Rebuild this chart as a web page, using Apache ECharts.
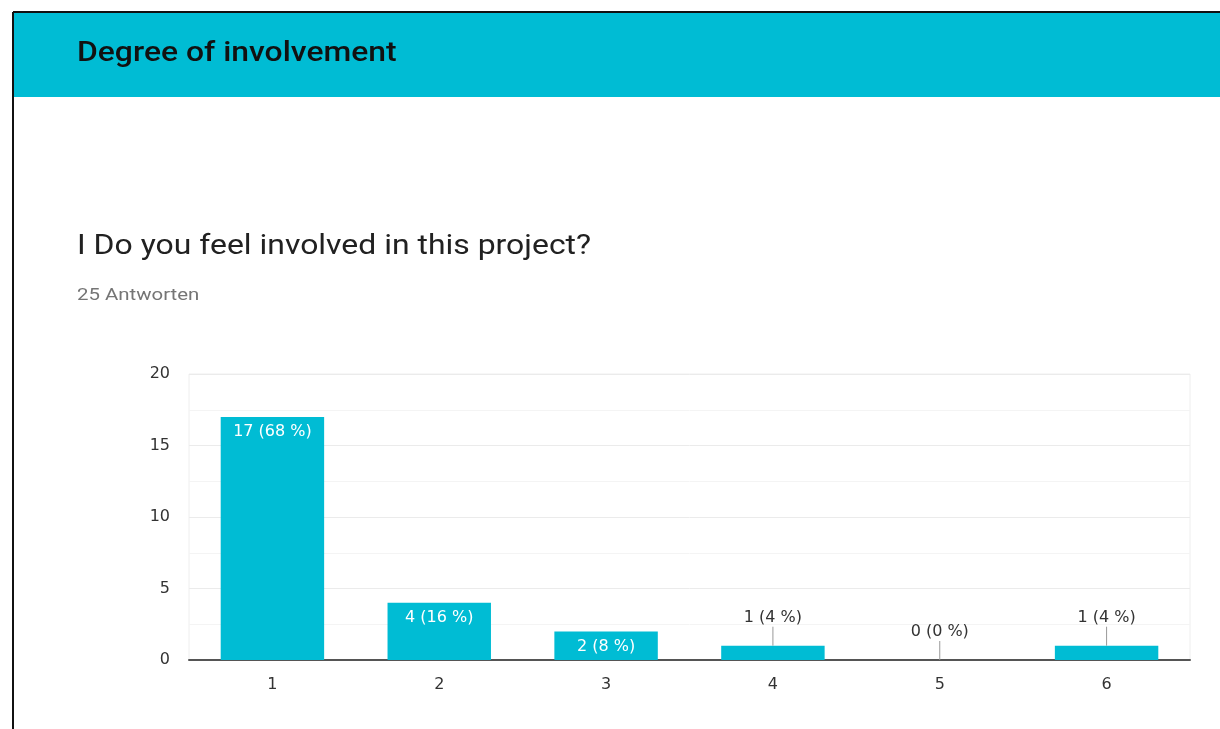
<!DOCTYPE html>
<html>
<head>
<meta charset="utf-8">
<script src="https://cdn.jsdelivr.net/npm/echarts@6/dist/echarts.min.js"></script>
<style>
  html, body { margin: 0; padding: 0; background: #fff; }
  #chart { width: 1220px; height: 729px; }
</style>
</head>
<body>
<div id="chart"></div>
<script>
// answers to the question, scale 1..6
var categories = ['1', '2', '3', '4', '5', '6'];
var counts = [17, 4, 2, 1, 0, 1];
var total = 25;
var yTicks = [0, 5, 10, 15, 20];

var barColor = '#00bcd4';

function labelText(v) {
    return v + ' (' + Math.round(v / total * 100) + ' %)';
}

// small bars get their label above with a short leader line
var outside = counts.map(function (v, i) { return [i, v]; }).filter(function (d) { return d[1] < 2; });

var myChart = echarts.init(document.getElementById('chart'));

var option = {
    animation: false,
    textStyle: { fontFamily: 'DejaVu Sans, sans-serif' },
    graphic: [
        { type: 'rect', shape: { x: 14, y: 13, width: 1206, height: 84 }, style: { fill: barColor } },
        { type: 'line', shape: { x1: 13, y1: 12, x2: 1220, y2: 12 }, style: { stroke: '#111', lineWidth: 2 } },
        { type: 'line', shape: { x1: 13, y1: 12, x2: 13, y2: 729 }, style: { stroke: '#111', lineWidth: 2 } },
        { type: 'text', x: 77, y: 54, scaleX: 1.18, style: { text: 'Degree of involvement', fill: '#111', font: '500 27px Roboto', textVerticalAlign: 'middle' } },
        { type: 'text', x: 77, y: 247, scaleX: 1.14, style: { text: 'I Do you feel involved in this project?', fill: '#212121', font: '28px Roboto', textVerticalAlign: 'middle' } },
        { type: 'text', x: 77, y: 296, scaleX: 1.2, style: { text: '25 Antworten', fill: '#757575', font: '17px Roboto', textVerticalAlign: 'middle' } }
    ],
    grid: {
        left: 189, right: 30, top: 374, bottom: 69,
        show: true, borderColor: '#eeeeee', borderWidth: 1
    },
    xAxis: {
        type: 'category',
        data: categories,
        axisLine: { lineStyle: { color: '#555', width: 2 } },
        axisTick: { show: false },
        axisLabel: { color: '#333', fontSize: 16, margin: 17 }
    },
    yAxis: {
        type: 'value',
        min: yTicks[0],
        max: yTicks[yTicks.length - 1],
        interval: 5,
        axisLine: { show: false },
        axisTick: { show: false },
        axisLabel: { color: '#333', fontSize: 16, margin: 19 },
        splitLine: { lineStyle: { color: '#ebebeb' } },
        minorTick: { show: false, splitNumber: 2 },
        minorSplitLine: { show: true, lineStyle: { color: '#f4f4f4' } }
    },
    series: [
        {
            type: 'bar',
            data: counts,
            barWidth: '62%',
            itemStyle: { color: barColor },
            label: {
                show: true,
                position: 'insideTop',
                distance: 7,
                color: '#fff',
                fontSize: 16,
                formatter: function (p) { return p.value < 2 ? '' : labelText(p.value); }
            }
        },
        {
            type: 'custom',
            data: outside,
            silent: true,
            z: 5,
            renderItem: function (params, api) {
                var p = api.coord([api.value(0), api.value(1)]);
                return {
                    type: 'group',
                    children: [
                        { type: 'line', shape: { x1: p[0], y1: p[1], x2: p[0], y2: p[1] - 19 }, style: { stroke: '#999', lineWidth: 1 } },
                        { type: 'text', x: p[0], y: p[1] - 28, style: { text: labelText(api.value(1)), fill: '#333', font: '16px DejaVu Sans', textAlign: 'center', textVerticalAlign: 'middle' } }
                    ]
                };
            }
        }
    ]
};

myChart.setOption(option);
</script>
</body>
</html>
